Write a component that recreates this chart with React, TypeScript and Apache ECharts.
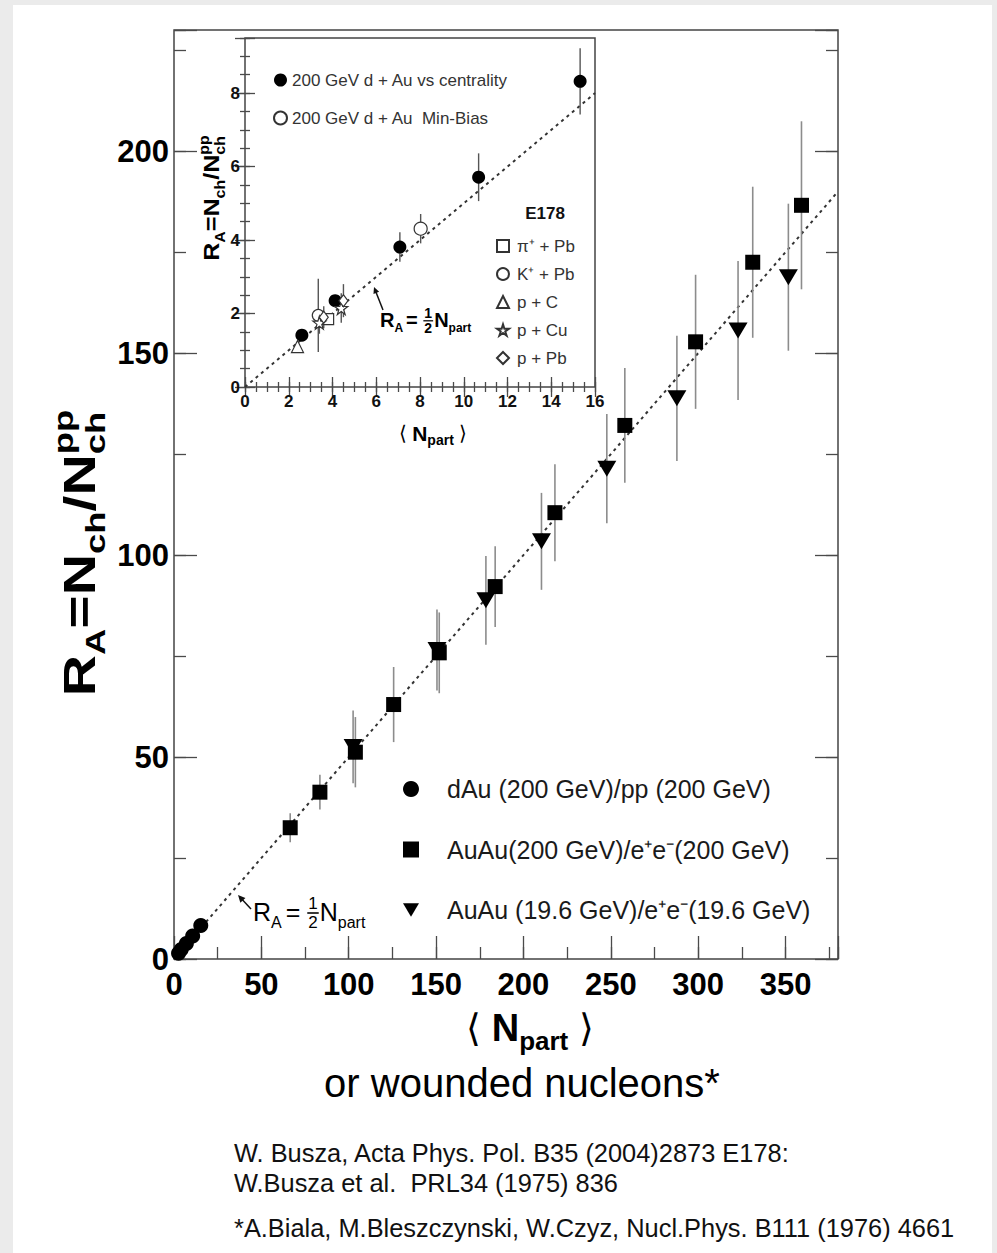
import React, { useEffect, useRef } from 'react';
import * as echarts from 'echarts';

const FONT = '"Liberation Sans", Arial, Helvetica, sans-serif';

// ---------------- data ----------------
// [N_part, R_A, error]
const dAuCentrality = [[2.6, 1.41, 0.1], [4.12, 2.35, 0.15], [7.08, 3.81, 0.4], [10.68, 5.71, 0.65], [15.32, 8.32, 0.9]];
const dAuMinBias = [[8.03, 4.31, 0.4]];
const e178PiPb = [[3.8, 1.85, 0.15]];
const e178KPb = [[3.35, 1.95, 1.0]];
const e178pC = [[2.4, 1.1, 0.1]];
const e178pCu = [[3.4, 1.75, 0.3], [4.4, 2.15, 0.4]];
const e178pPb = [[3.6, 1.9, 0.3], [4.5, 2.35, 0.45]];

const auAu200 = [[66.5, 32.5, 3.6], [83.5, 41.3, 4.3], [103.8, 51.2, 8.7], [125.7, 63, 9.3], [151.8, 75.8, 10], [183.8, 92.2, 10], [218, 110.5, 12], [258, 132.1, 14.2], [298.5, 152.8, 16.6], [331.2, 172.5, 18.7], [359.1, 186.6, 20.8]];
const auAu19 = [[102.5, 52.5, 9], [150.5, 76.5, 10], [178.5, 88.8, 11], [210.3, 103.4, 12], [247.7, 121.4, 13.5], [287.8, 138.8, 15.5], [322.8, 155.6, 17.2], [351.6, 168.8, 18.2]];

const refMain = [[0, 0], [380, 190]];
const refInset = [[0, 0], [16, 8]];

const mainNames = ['dAu (200 GeV)/pp (200 GeV)', 'AuAu(200 GeV)/e\u207Ae\u207B(200 GeV)', 'AuAu (19.6 GeV)/e\u207Ae\u207B(19.6 GeV)'];
const insetNames = ['200 GeV d + Au vs centrality', '200 GeV d + Au  Min-Bias'];
const e178Names = ['\u03C0\u207A + Pb', 'K\u207A + Pb', 'p + C', 'p + Cu', 'p + Pb'];

const citations = ['W. Busza, Acta Phys. Pol. B35 (2004)2873 E178:', 'W.Busza et al.  PRL34 (1975) 836', '*A.Biala, M.Bleszczynski, W.Czyz, Nucl.Phys. B111 (1976) 4661'];

const STAR = 'path://M50,0 L61,35 L98,35 L68,57 L79,91 L50,70 L21,91 L32,57 L2,35 L39,35 Z';
const DOWN_TRI = 'path://M0,0 L20,0 L10,17 Z';

// ---------------- text helpers ----------------
let mctx: any = null;
function tw(text: string, size: number, weight = 'normal') {
  if (!mctx) mctx = document.createElement('canvas').getContext('2d');
  mctx.font = `${weight} ${size}px ${FONT}`;
  return mctx.measureText(text).width;
}

type Piece = { t?: string; s: number; w?: string; base?: number; frac?: [string, string]; stack?: [string, string]; gap?: number };

function txt(text: string, x: number, y: number, s: number, w: string, color: string, align = 'left') {
  return {
    type: 'text', x, y,
    style: { text, fontSize: s, fontWeight: w, fontFamily: FONT, fill: color, textAlign: align, textVerticalAlign: 'middle', align, verticalAlign: 'middle' },
  };
}

function seq(pieces: Piece[], main: number, color: string) {
  const els: any[] = [];
  let cur = 0;
  const B0 = 0.35 * main;
  for (const p of pieces) {
    const w = p.w || 'normal';
    if (p.t !== undefined) {
      els.push(txt(p.t, cur, B0 + (p.base || 0) - 0.35 * p.s, p.s, w, color));
      cur += tw(p.t, p.s, w) + (p.gap || 0);
    } else if (p.frac) {
      const wd = Math.max(tw(p.frac[0], p.s, w), tw(p.frac[1], p.s, w)) + 2;
      els.push(txt(p.frac[0], cur + wd / 2, -0.34 * main, p.s, w, color, 'center'));
      els.push(txt(p.frac[1], cur + wd / 2, 0.4 * main, p.s, w, color, 'center'));
      els.push({ type: 'line', shape: { x1: cur, y1: 0.04 * main, x2: cur + wd, y2: 0.04 * main }, style: { stroke: color, lineWidth: Math.max(1, main / 16) } });
      cur += wd + 1;
    } else if (p.stack) {
      const wd = Math.max(tw(p.stack[0], p.s, w), tw(p.stack[1], p.s, w));
      els.push(txt(p.stack[0], cur, B0 - 0.5 * main - 0.35 * p.s, p.s, w, color));
      els.push(txt(p.stack[1], cur, B0 + 0.22 * main - 0.35 * p.s, p.s, w, color));
      cur += wd;
    }
  }
  return { els, width: cur };
}

function placed(pieces: Piece[], main: number, x: number, y: number, opts: { center?: boolean; rotation?: number; color?: string; stretch?: number } = {}) {
  const { els, width } = seq(pieces, main, opts.color || '#000');
  const shift = opts.center ? -width / 2 : 0;
  const children = els.map((e: any) => {
    if (e.type === 'line') return { ...e, shape: { ...e.shape, x1: e.shape.x1 + shift, x2: e.shape.x2 + shift } };
    return { ...e, x: e.x + shift };
  });
  const inner = { type: 'group', scaleX: opts.stretch || 1, children };
  return { type: 'group', x, y, rotation: opts.rotation || 0, children: [inner] };
}

function arrow(tx: number, ty: number, fx: number, fy: number, head: number, color: string, lw: number) {
  const ang = Math.atan2(ty - fy, tx - fx);
  const a1 = ang + Math.PI - 0.45, a2 = ang + Math.PI + 0.45;
  return [
    { type: 'line', shape: { x1: fx, y1: fy, x2: tx - Math.cos(ang) * head * 0.6, y2: ty - Math.sin(ang) * head * 0.6 }, style: { stroke: color, lineWidth: lw } },
    { type: 'polygon', shape: { points: [[tx, ty], [tx + Math.cos(a1) * head, ty + Math.sin(a1) * head], [tx + Math.cos(a2) * head, ty + Math.sin(a2) * head]] }, style: { fill: color } },
  ];
}

// ---------------- series helpers ----------------
function errSeries(data: number[][], xi: number, yi: number, color: string, lw: number) {
  return {
    type: 'custom', xAxisIndex: xi, yAxisIndex: yi, data, z: 3, silent: true, clip: false,
    encode: { x: 0, y: 1 },
    renderItem: (params: any, api: any) => {
      const x = api.value(0), y = api.value(1), e = api.value(2);
      const p1 = api.coord([x, y - e]);
      const p2 = api.coord([x, y + e]);
      return { type: 'line', shape: { x1: p1[0], y1: p1[1], x2: p2[0], y2: p2[1] }, style: { stroke: color, lineWidth: lw } };
    },
  };
}

function scat(name: string, data: number[][], xi: number, yi: number, symbol: string, size: any, open: boolean, rotate = 0) {
  return {
    type: 'scatter', name, data: data.map((d) => [d[0], d[1]]), xAxisIndex: xi, yAxisIndex: yi, z: 4,
    symbol, symbolSize: size, symbolRotate: rotate,
    itemStyle: open ? { color: '#fff', borderColor: '#333', borderWidth: 1.2, opacity: 1 } : { color: '#000', opacity: 1 },
  };
}

const TICK = '#4a4a4a';

function axisBase(gridIndex: number, min: number, max: number, interval: number, len: number, position: string, labels: any) {
  return {
    type: 'value', gridIndex, min, max, interval, position,
    axisLine: { show: false },
    splitLine: { show: false },
    axisTick: { show: true, inside: true, length: len, lineStyle: { color: TICK, width: 1.3 } },
    axisLabel: labels ? { show: true, ...labels } : { show: false },
  };
}

export default function App() {
  const ref = useRef<HTMLDivElement>(null);

  useEffect(() => {
    if (!ref.current) return;
    const chart = echarts.init(ref.current, null, { renderer: 'svg' });

    const mainLab = (step: number) => ({
      fontSize: 31, fontWeight: 'bold', color: '#000', fontFamily: FONT,
      formatter: (v: number) => (Math.abs(v / step - Math.round(v / step)) < 1e-6 ? String(v) : ''),
    });
    const insetLab = (step: number) => ({
      fontSize: 17, fontWeight: 'bold', color: '#111', fontFamily: FONT,
      formatter: (v: number) => (Math.abs(v / step - Math.round(v / step)) < 1e-6 ? String(v) : ''),
    });

    const xAxis = [
      { ...axisBase(0, 0, 380, 50, 23, 'bottom', { ...mainLab(50), margin: 10 }) },
      { ...axisBase(0, 0, 380, 25, 12, 'bottom', null) },
      { ...axisBase(1, 0, 16, 2, 10, 'bottom', { ...insetLab(2), margin: 6 }) },
      { ...axisBase(1, 0, 16, 0.5, 5, 'bottom', null) },
      { ...axisBase(1, 0, 16, 2, 10, 'top', null) },
      { ...axisBase(1, 0, 16, 0.5, 5, 'top', null) },
    ];
    const yAxis = [
      { ...axisBase(0, 0, 230, 50, 23, 'left', { ...mainLab(50), margin: 5 }) },
      { ...axisBase(0, 0, 230, 25, 12, 'left', null) },
      { ...axisBase(0, 0, 230, 50, 23, 'right', null) },
      { ...axisBase(0, 0, 230, 25, 12, 'right', null) },
      { ...axisBase(1, 0, 9.5, 2, 10, 'left', { ...insetLab(2), margin: 5 }) },
      { ...axisBase(1, 0, 9.5, 0.5, 5, 'left', null) },
      { ...axisBase(1, 0, 9.5, 2, 10, 'right', null) },
      { ...axisBase(1, 0, 9.5, 0.5, 5, 'right', null) },
    ];

    const refLine = (data: number[][], xi: number, yi: number) => ({
      type: 'line', data, xAxisIndex: xi, yAxisIndex: yi, symbol: 'none', silent: true, z: 2,
      lineStyle: { color: '#333', width: 2, type: [3, 4] },
    });

    const series: any[] = [
      refLine(refMain, 0, 0),
      errSeries(auAu200, 0, 0, '#8c8c8c', 1.6),
      errSeries(auAu19, 0, 0, '#8c8c8c', 1.6),
      errSeries(dAuCentrality, 0, 0, '#8c8c8c', 1.6),
      scat(mainNames[0], dAuCentrality, 0, 0, 'circle', 15, false),
      scat(mainNames[1], auAu200, 0, 0, 'rect', 15, false),
      scat(mainNames[2], auAu19, 0, 0, 'triangle', [19, 16], false, 180),
      refLine(refInset, 2, 4),
      errSeries(dAuCentrality, 2, 4, '#555', 1.4),
      errSeries(dAuMinBias, 2, 4, '#555', 1.4),
      errSeries(e178KPb, 2, 4, '#555', 1.4),
      errSeries(e178pCu, 2, 4, '#555', 1.4),
      errSeries(e178pPb, 2, 4, '#555', 1.4),
      errSeries(e178PiPb, 2, 4, '#555', 1.4),
      scat(insetNames[0], dAuCentrality, 2, 4, 'circle', 13, false),
      scat(insetNames[1], dAuMinBias, 2, 4, 'circle', 13, true),
      scat(e178Names[0], e178PiPb, 2, 4, 'rect', 11, true),
      scat(e178Names[1], e178KPb, 2, 4, 'circle', 12, true),
      scat(e178Names[2], e178pC, 2, 4, 'triangle', 12, true),
      scat(e178Names[3], e178pCu, 2, 4, STAR, 13, true),
      scat(e178Names[4], e178pPb, 2, 4, 'diamond', [9, 12], true),
    ];

    const black = '#000';
    const graphic: any[] = [
      // main y title
      placed([
        { t: 'R', s: 44, w: 'bold' }, { t: 'A', s: 28, w: 'bold', base: 10 }, { t: '=', s: 44, w: 'bold' },
        { t: 'N', s: 44, w: 'bold' }, { t: 'ch', s: 28, w: 'bold', base: 10 }, { t: '/', s: 44, w: 'bold' },
        { t: 'N', s: 44, w: 'bold' }, { stack: ['pp', 'ch'], s: 28, w: 'bold' },
      ], 44, 80, 553, { center: true, rotation: Math.PI / 2, stretch: 1.3 }),
      // inset y title
      placed([
        { t: 'R', s: 22, w: 'bold' }, { t: 'A', s: 14, w: 'bold', base: 5 }, { t: '=', s: 22, w: 'bold' },
        { t: 'N', s: 22, w: 'bold' }, { t: 'ch', s: 14, w: 'bold', base: 5 }, { t: '/', s: 22, w: 'bold' },
        { t: 'N', s: 22, w: 'bold' }, { stack: ['pp', 'ch'], s: 14, w: 'bold' },
      ], 22, 212, 198, { center: true, rotation: Math.PI / 2, stretch: 1.14 }),
      // main x title
      placed([
        { t: '\u27E8 ', s: 38 }, { t: 'N', s: 38, w: 'bold' }, { t: 'part', s: 26, w: 'bold', base: 9 }, { t: ' \u27E9', s: 38 },
      ], 38, 530, 1028, { center: true }),
      // inset x title
      placed([
        { t: '\u27E8 ', s: 20 }, { t: 'N', s: 21, w: 'bold' }, { t: 'part', s: 14, w: 'bold', base: 5 }, { t: ' \u27E9', s: 20 },
      ], 21, 433, 433, { center: true }),
      // main formula
      placed([
        { t: 'R', s: 25 }, { t: 'A', s: 16, base: 7, gap: 4 }, { t: '= ', s: 25 }, { frac: ['1', '2'], s: 17 },
        { t: 'N', s: 25 }, { t: 'part', s: 16, base: 7 },
      ], 25, 253, 912),
      ...arrow(238, 895, 251, 909, 8, '#111', 1.5),
      // inset formula
      placed([
        { t: 'R', s: 20, w: 'bold' }, { t: 'A', s: 12, w: 'bold', base: 5, gap: 3 }, { t: '= ', s: 20, w: 'bold' }, { frac: ['1', '2'], s: 14, w: 'bold' },
        { t: 'N', s: 20, w: 'bold' }, { t: 'part', s: 12, w: 'bold', base: 5 },
      ], 20, 380, 320),
      ...arrow(374, 287, 383, 310, 7, '#111', 1.5),
      // E178 title
      txt('E178', 545, 213, 17, 'bold', '#111', 'center'),
      // or wounded nucleons
      txt('or wounded nucleons*', 522, 1083, 40, 'normal', black, 'center'),
      txt(citations[0], 234, 1153, 25.4, 'normal', '#111'),
      txt(citations[1], 234, 1183, 25.4, 'normal', '#111'),
      txt(citations[2], 234, 1228, 25.4, 'normal', '#111'),
    ];

    const option: any = {
      animation: false,
      backgroundColor: 'transparent',
      grid: [
        { left: 174, top: 30, width: 664, height: 929, show: true, borderColor: '#444', borderWidth: 1.5, backgroundColor: 'transparent' },
        { left: 245, top: 38, width: 350, height: 349, show: true, borderColor: '#444', borderWidth: 1.5, backgroundColor: '#fff' },
      ],
      xAxis, yAxis,
      legend: [
        {
          data: [{ name: mainNames[0] }, { name: mainNames[1] }, { name: mainNames[2], icon: DOWN_TRI }],
          orient: 'vertical', left: 398, top: 771, itemWidth: 16, itemHeight: 16, itemGap: 34.5,
          selectedMode: false, textStyle: { fontSize: 25, color: '#1a1a1a', fontFamily: FONT, lineHeight: 26, padding: [0, 0, 0, 23] },
        },
        {
          data: insetNames, orient: 'vertical', left: 268, top: 66, itemWidth: 13, itemHeight: 13, itemGap: 20,
          selectedMode: false, textStyle: { fontSize: 17, color: '#333', fontFamily: FONT, lineHeight: 18 },
        },
        {
          data: e178Names, orient: 'vertical', left: 491, top: 232, itemWidth: 12, itemHeight: 12, itemGap: 10,
          selectedMode: false, textStyle: { fontSize: 17, color: '#333', fontFamily: FONT, lineHeight: 18, padding: [0, 0, 0, 3] },
        },
      ],
      series,
      graphic,
    };
    chart.setOption(option);
    return () => chart.dispose();
  }, []);

  return (
    <div style={{ position: 'absolute', left: 0, top: 0, width: 997, height: 1253, background: '#ebebeb', overflow: 'hidden' }}>
      <div style={{ position: 'absolute', left: 13, top: 5, width: 979, height: 1248, background: '#fff' }} />
      <div ref={ref} style={{ position: 'absolute', left: 0, top: 0, width: 997, height: 1253 }} />
    </div>
  );
}
